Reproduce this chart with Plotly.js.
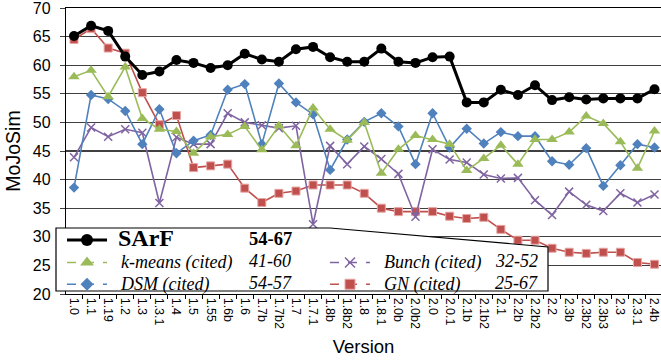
<!DOCTYPE html>
<html>
<head>
<meta charset="utf-8">
<script src="https://cdn.plot.ly/plotly-3.0.1.min.js"></script>
<style>html,body{margin:0;padding:0;background:#fff;}#chart{width:661px;height:362px;}</style>
</head>
<body>
<div id="chart"></div>
<script>
// ---- data ----
const versions = ['1.0','1.1','1.19','1.2','1.3','1.3.1','1.4','1.5','1.55','1.6b','1.6','1.7b','1.7b2','1.7','1.7.1','1.8b','1.8b2','1.8','1.8.1','2.0b','2.0b2','2.0','2.0.1','2.1b','2.1b2','2.1','2.2b','2.2b2','2.2','2.3b','2.3b2','2.3b3','2.3','2.3.1','2.4b'];
const sarf   = [65.1,66.9,66.0,61.5,58.3,58.9,60.9,60.4,59.5,60.0,62.0,61.0,60.6,62.8,63.2,61.4,60.6,60.6,62.9,60.6,60.4,61.4,61.5,53.5,53.5,55.7,54.8,56.5,53.9,54.4,54.0,54.2,54.2,54.2,55.8];
const kmeans = [58.0,59.1,54.5,59.7,50.7,48.8,48.4,44.6,47.5,47.9,49.3,45.2,49.4,45.9,52.5,48.8,46.9,50.0,41.1,45.3,47.7,47.0,46.2,41.6,43.7,46.0,42.7,47.0,47.0,48.3,51.1,49.8,46.6,42.0,48.5];
const dsm    = [38.6,54.8,54.1,52.0,46.2,52.3,44.6,46.8,47.8,55.7,56.7,46.2,56.8,53.5,51.4,41.7,47.0,50.1,51.6,49.3,42.7,51.6,45.6,48.9,46.3,48.3,47.6,47.6,43.2,42.6,45.5,38.9,42.5,46.2,45.6];
const bunch  = [43.9,49.1,47.5,48.8,48.2,35.9,47.4,46.2,46.2,51.6,50.0,49.5,49.0,49.4,32.2,45.9,42.7,45.8,43.6,41.0,33.5,45.3,43.5,43.0,40.9,40.2,40.3,36.4,33.8,37.9,35.6,34.5,37.6,36.0,37.4];
const gn     = [64.5,66.4,63.0,62.1,55.2,49.6,51.2,42.1,42.4,42.7,38.5,36.0,37.6,38.0,39.05,39.05,39.05,37.6,35.0,34.4,34.4,34.4,33.6,33.2,33.4,31.3,29.4,29.4,28.0,27.3,27.1,27.3,27.3,25.5,25.2];
const yTicks = [20,25,30,35,40,45,50,55,60,65,70];
const seriesNames = ['SArF','k-means (cited)','DSM (cited)','Bunch (cited)','GN (cited)'];
const seriesRanges = ['54-67','41-60','54-57','32-52','25-67'];

// ---- styling ----
const W = 661, H = 362;
const M = {l:66, r:0, t:8, b:68};
const PW = W - M.l - M.r, PH = H - M.t - M.b;
const X = px => (px - M.l) / PW;
const Y = py => (H - M.b - py) / PH;

const styles = [
  {color:'#000000', width:3,   symbol:'circle',       size:10, lineColor:'#000000'},
  {color:'#9BBB59', width:1.6, symbol:'triangle-up',  size:10, lineColor:'#9BBB59'},
  {color:'#4F81BD', width:1.6, symbol:'diamond',      size:8,  lineColor:'#4F81BD'},
  {color:'#8064A2', width:1.6, symbol:'x-thin-open',  size:8,  lineColor:'#8064A2'},
  {color:'#C0504D', width:1.6, symbol:'square',       size:8,  lineColor:'#E6A5A3'}
];
const values = [sarf, kmeans, dsm, bunch, gn];
const legendOf = ['legend3','legend','legend','legend2','legend2'];

const data = [];
// data traces (draw order: GN, Bunch, DSM, k-means, SArF on top)
[4,3,2,1,0].forEach(i => {
  const s = styles[i];
  data.push({
    type:'scatter', mode:'lines+markers', x:versions, y:values[i], name:seriesNames[i],
    showlegend:false, cliponaxis:false,
    line:{color:s.color, width:s.width},
    marker:{symbol:s.symbol, size:s.size, color:s.color,
            line:{color: i===3 ? s.color : s.lineColor, width: i===3 ? 1.5 : (i===4 ? 1 : 0)}}
  });
});
// legend entries (dashed keys)
[0,1,2,3,4].forEach(i => {
  const s = styles[i];
  const label = i===0
    ? '<span style="font-size:24px"><b>\u00A0' + seriesNames[i] + '</b></span>'
    : '<span style="font-size:18px"><i>\u00A0\u00A0' + seriesNames[i] + '</i></span>';
  data.push({
    type:'scatter', mode:'lines+markers', x:[null], y:[null], name:label,
    legend: legendOf[i], showlegend:true,
    line:{color:s.color, width: i===0 ? 3 : 1.6, dash: i===0 ? 'solid' : 'dash'},
    marker:{symbol:s.symbol, size: i===0 ? 12 : s.size+2, color:s.color,
            line:{color: i===3 ? s.color : s.lineColor, width: i===3 ? 1.5 : (i===4 ? 1 : 0)}}
  });
});

const legendFont = {family:'Liberation Serif, Times New Roman, serif', size:14.5, color:'#000'};
const annFont = {family:'Liberation Serif, Times New Roman, serif', size:18, color:'#000'};
const rangeX = [247, 247, 247, 493, 493];
const rangeY = [239, 260.7, 282.7, 260.7, 282.7];
const annotations = seriesRanges.map((r, i) => ({
  xref:'paper', yref:'paper', x:X(rangeX[i]), y:Y(rangeY[i]), xanchor:'left', yanchor:'middle',
  text: i===0 ? '<b>'+r+'</b>' : '<i>'+r+'</i>', showarrow:false,
  font: Object.assign({}, annFont, {size: i===0 ? 18.5 : 18})
}));

const boxPath = 'M' + X(56) + ',' + Y(228) + ' L' + X(330) + ',' + Y(228) + ' L' + X(548) + ',' + Y(247) +
                ' L' + X(548) + ',' + Y(291) + ' L' + X(56) + ',' + Y(291) + ' Z';

const legBase = {xanchor:'left', yanchor:'top', bgcolor:'rgba(0,0,0,0)', borderwidth:0,
                 font:legendFont, itemwidth:40, tracegroupgap:0, traceorder:'normal'};

const layout = {
  width:W, height:H, margin:M,
  paper_bgcolor:'#fff', plot_bgcolor:'#fff',
  font:{family:'Liberation Sans, Arial, sans-serif', color:'#000'},
  xaxis:{
    type:'category', categoryorder:'array', categoryarray:versions,
    range:[-0.47, 34.38], tickangle:90, tickfont:{size:12.5, color:'#000'},
    ticks:'outside', ticklen:4, tickcolor:'#000', tickson:'boundaries',
    showline:true, mirror:true, linecolor:'#000', linewidth:1.2, showgrid:false,
    title:{text:'Version', font:{size:18.5, color:'#000'}, standoff:12}, automargin:false
  },
  yaxis:{
    range:[20,70], tickvals:yTicks, ticklabeloverflow:'allow',
    tickfont:{size:16, color:'#000'}, ticks:'outside', ticklen:5, tickcolor:'#404040',
    ticklabelstandoff:6,
    showgrid:true, gridcolor:'#404040', gridwidth:1.2,
    showline:true, linecolor:'#000', linewidth:1.2, zeroline:false,
    title:{text:'MoJoSim', font:{size:19.5, color:'#000'}, standoff:7}, automargin:false
  },
  legend3:Object.assign({}, legBase, {x:X(62), y:Y(224)}),
  legend:Object.assign({}, legBase, {x:X(62), y:Y(246.5)}),
  legend2:Object.assign({}, legBase, {x:X(325), y:Y(246.5)}),
  shapes:[{type:'path', xref:'paper', yref:'paper', path:boxPath, fillcolor:'#fff',
           line:{color:'#000', width:1.2}, layer:'above'}],
  annotations:annotations
};

Plotly.newPlot('chart', data, layout, {displayModeBar:false, staticPlot:true});
</script>
</body>
</html>
